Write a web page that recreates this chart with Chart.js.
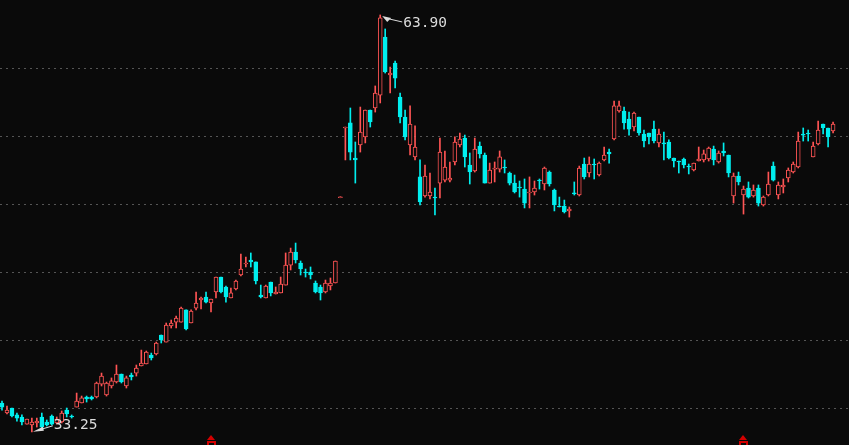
<!DOCTYPE html>
<html>
<head>
<meta charset="utf-8">
<script src="https://cdn.jsdelivr.net/npm/chart.js@4.4.0/dist/chart.umd.min.js"></script>
<style>
html, body { margin: 0; padding: 0; background: #0a0a0a; }
canvas { display: block; }
</style>
</head>
<body>
<canvas id="kline" width="849" height="445"></canvas>
<script>
// daily OHLC
var opens = [35.37,34.63,35.00,34.49,34.34,33.82,33.75,33.90,34.34,33.97,34.41,33.90,33.97,34.85,34.41,35.07,35.37,35.81,35.81,35.81,
  36.76,35.96,36.62,36.91,37.50,36.62,37.43,37.57,38.09,38.24,38.90,38.97,40.37,39.85,41.03,41.32,41.32,42.21,41.25,42.35,
  42.94,43.16,42.72,43.53,44.63,43.90,43.09,43.75,44.78,45.59,45.88,45.74,43.31,43.09,44.26,43.38,43.46,44.04,45.51,46.47,
  45.66,45.00,45.00,44.19,43.90,43.53,43.97,44.19,50.46,55.59,55.96,53.38,54.34,54.93,56.91,57.06,58.01,62.28,59.49,60.37,
  57.87,56.40,54.34,53.46,51.99,50.59,50.59,50.51,51.54,51.76,51.76,53.09,54.34,54.85,52.87,52.43,54.26,53.60,51.54,52.57,
  52.57,52.72,52.28,51.54,51.25,51.10,50.81,50.88,51.76,51.47,52.35,51.03,49.85,49.85,49.49,50.81,50.66,52.94,52.28,52.94,
  52.13,53.24,53.82,54.78,56.84,56.84,56.25,55.66,56.40,55.15,55.22,55.51,54.49,54.49,54.56,53.38,53.16,53.31,52.79,52.50,
  53.16,53.24,53.31,54.04,53.09,53.90,53.60,50.59,52.06,50.66,51.18,50.59,51.18,49.93,50.66,52.79,50.66,51.25,51.91,52.35,
  52.72,55.15,55.22,53.46,54.41,55.88,55.59,55.37];
var highs = [35.51,35.15,35.00,34.63,34.49,34.19,34.26,34.26,34.63,34.12,34.49,34.34,34.78,35.00,34.49,36.10,35.88,35.88,35.88,36.91,
  37.57,36.91,37.21,38.16,37.50,37.35,37.57,38.16,39.26,39.19,39.04,39.85,40.37,41.25,41.47,41.76,42.43,42.21,42.21,43.53,
  43.16,43.53,43.01,44.63,44.63,43.97,43.82,44.41,46.32,46.10,46.40,45.74,44.04,44.04,44.26,43.90,44.63,46.40,46.76,47.13,
  45.81,45.22,45.37,44.34,44.04,44.41,44.56,45.81,50.46,55.66,57.06,54.56,57.13,56.91,56.91,58.68,63.90,62.87,60.07,60.51,
  58.16,56.91,57.21,55.74,53.24,52.87,52.28,51.18,54.85,53.90,53.09,54.93,55.22,55.07,53.75,54.85,54.56,53.75,53.01,53.09,
  53.90,53.24,52.35,52.13,51.69,51.84,51.99,51.69,51.84,52.72,52.43,51.10,50.51,50.29,49.78,51.62,52.79,53.38,53.46,53.31,
  53.09,54.19,54.04,57.57,57.57,57.13,56.76,56.76,56.40,55.44,55.22,56.10,55.51,55.29,54.71,53.38,53.16,53.38,52.94,53.01,
  54.19,53.97,54.19,54.26,53.90,54.49,53.60,52.28,52.35,51.32,51.62,51.40,51.40,50.59,52.35,53.09,51.62,51.84,52.65,53.09,
  55.29,55.59,55.44,54.56,56.10,55.88,55.59,56.03];
var lows = [34.85,34.56,34.34,34.04,33.75,33.82,33.25,33.60,33.53,33.68,33.75,33.82,33.90,34.34,34.26,35.07,35.37,35.44,35.59,35.74,
  36.62,35.88,36.47,36.84,36.84,36.47,37.06,37.35,38.09,38.24,38.53,38.90,39.78,39.85,40.88,40.88,41.32,40.74,41.25,42.21,
  42.28,42.72,42.06,43.09,43.46,42.79,43.09,43.68,44.71,45.37,45.37,44.12,43.09,43.09,43.24,43.38,43.46,44.04,45.15,45.66,
  44.78,44.63,44.49,43.46,42.94,43.46,43.68,44.19,50.46,53.24,53.24,51.54,53.82,54.49,55.66,56.76,57.43,59.63,58.16,58.53,
  55.96,54.71,53.60,53.24,49.93,50.51,50.37,49.19,50.44,51.62,51.62,52.87,54.19,52.72,51.47,52.35,53.38,51.54,51.54,51.62,
  52.35,52.28,51.40,50.81,50.51,49.71,49.71,50.66,51.10,51.03,51.32,49.49,49.78,49.34,49.04,50.66,50.59,51.84,51.99,51.84,
  52.06,53.16,53.01,54.71,56.76,55.51,55.07,55.37,55.07,54.19,54.41,54.49,54.19,53.24,53.31,52.72,52.28,52.65,52.21,52.43,
  53.16,53.09,53.16,52.87,53.01,53.53,51.99,50.07,51.40,49.26,50.44,50.51,49.85,49.85,50.59,51.69,50.37,50.81,51.62,52.28,
  52.65,54.63,54.63,53.46,54.34,55.15,54.19,55.22];
var closes = [35.07,34.85,34.41,34.26,33.97,34.19,33.97,34.04,33.60,33.75,33.82,34.19,34.63,34.56,34.34,35.51,35.74,35.66,35.66,36.84,
  37.35,36.84,36.99,37.50,36.91,37.21,37.28,37.94,38.31,39.12,38.68,39.78,40.00,41.10,41.25,41.62,42.35,40.81,42.13,42.72,
  43.09,42.79,43.01,44.63,43.53,43.16,43.46,44.34,45.22,45.66,45.74,44.34,43.16,43.97,43.46,43.53,44.12,45.51,46.47,45.88,
  45.22,44.93,44.78,43.53,43.46,44.19,44.19,45.81,50.46,55.66,53.82,53.24,55.29,56.91,56.03,58.16,63.68,59.71,59.63,59.26,
  56.40,54.93,55.88,54.19,50.15,52.06,50.88,50.44,53.82,52.72,51.91,54.56,54.78,53.46,52.35,54.04,53.68,51.54,52.50,52.65,
  53.46,52.65,51.54,50.88,51.18,50.07,50.88,51.18,51.69,52.65,51.47,49.93,49.78,49.41,49.63,50.74,52.65,51.99,52.94,52.87,
  53.01,53.60,53.68,57.21,57.21,55.96,55.51,56.69,55.22,54.63,54.93,54.63,55.15,54.41,53.38,53.16,53.09,52.87,52.72,53.01,
  53.31,53.68,54.12,53.24,53.75,53.75,52.28,52.06,51.62,51.10,50.51,51.03,50.07,50.51,51.47,51.76,51.40,51.40,52.50,52.94,
  54.63,55.07,55.15,54.26,55.44,55.59,54.93,55.88];

var gridValues = [35, 40, 45, 50, 55, 60];
var markerDays = [42, 149];

var upColor = 'rgb(255,84,84)';
var downColor = 'rgb(0,238,238)';
var bgColor = '#0a0a0a';

var days = opens.map(function (v, i) { return i; });
var isUp = function (i) { return closes[i] >= opens[i]; };

var bodies = days.map(function (d, i) { return { x: d, y: [opens[i], closes[i]] }; });
var wicks = days.map(function (d, i) { return { x: d, y: [lows[i], highs[i]] }; });

var background = {
  id: 'background',
  beforeDraw: function (chart) {
    var c = chart.ctx;
    c.save();
    c.fillStyle = bgColor;
    c.fillRect(0, 0, chart.width, chart.height);
    c.restore();
  }
};

// high/low labels and the red markers on the bottom edge
var marks = {
  id: 'marks',
  afterDatasetsDraw: function (chart) {
    var c = chart.ctx;
    var xs = chart.scales.x, ys = chart.scales.y;
    var hi = 0, lo = 0;
    highs.forEach(function (v, i) { if (v > highs[hi]) hi = i; });
    lows.forEach(function (v, i) { if (v < lows[lo]) lo = i; });

    c.save();
    c.fillStyle = '#dcdcdc';
    c.strokeStyle = '#dcdcdc';
    c.lineWidth = 1;
    c.font = '14.5px "DejaVu Sans Mono", monospace';
    c.textBaseline = 'middle';

    var x = xs.getPixelForValue(days[hi]), y = ys.getPixelForValue(highs[hi]);
    c.beginPath();
    c.moveTo(x + 2, y + 1); c.lineTo(x + 11, y + 3); c.lineTo(x + 7, y + 7);
    c.closePath(); c.fill();
    c.beginPath(); c.moveTo(x + 9, y + 4); c.lineTo(x + 22, y + 7); c.stroke();
    c.fillText(highs[hi].toFixed(2), x + 23, y + 8);

    x = xs.getPixelForValue(days[lo]); y = ys.getPixelForValue(lows[lo]);
    c.beginPath();
    c.moveTo(x + 1, y); c.lineTo(x + 11, y - 5); c.lineTo(x + 12, y - 1);
    c.closePath(); c.fill();
    c.beginPath(); c.moveTo(x + 11, y - 3); c.lineTo(x + 21, y - 6); c.stroke();
    c.fillText(lows[lo].toFixed(2), x + 22, y - 7);

    var b = chart.chartArea.bottom;
    markerDays.forEach(function (d) {
      var mx = Math.round(xs.getPixelForValue(d));
      c.fillStyle = '#d40000';
      c.beginPath();
      c.moveTo(mx, b - 10); c.lineTo(mx - 4, b - 5); c.lineTo(mx + 4, b - 5);
      c.closePath(); c.fill();
      c.fillRect(mx - 4, b - 4, 9, 4);
      c.fillStyle = bgColor;
      c.fillRect(mx - 2, b - 2, 5, 2);
    });
    c.restore();
  }
};

new Chart(document.getElementById('kline'), {
  type: 'bar',
  data: {
    datasets: [{
      label: 'body',
      data: bodies,
      order: 1,
      grouped: false,
      barThickness: 4,
      borderWidth: 1,
      borderSkipped: false,
      minBarLength: 1,
      backgroundColor: function (ctx) { return isUp(ctx.dataIndex) ? bgColor : downColor; },
      borderColor: function (ctx) { return isUp(ctx.dataIndex) ? upColor : downColor; }
    }, {
      label: 'wick',
      data: wicks,
      order: 2,
      grouped: false,
      barThickness: 1,
      borderWidth: 0,
      minBarLength: 1,
      backgroundColor: function (ctx) { return isUp(ctx.dataIndex) ? upColor : downColor; }
    }]
  },
  options: {
    responsive: false,
    animation: false,
    layout: { padding: 0 },
    plugins: { legend: { display: false }, tooltip: { enabled: false } },
    scales: {
      x: { type: 'linear', min: -0.4, max: 170.2, offset: false, display: false },
      y: {
        min: 32.28,
        max: 65,
        ticks: { display: false },
        grid: { color: '#555555', lineWidth: 1, drawTicks: false },
        border: { display: false, dash: [2, 4] },
        afterBuildTicks: function (s) { s.ticks = gridValues.map(function (v) { return { value: v }; }); },
        afterFit: function (s) { s.width = 0; }
      }
    }
  },
  plugins: [background, marks]
});
</script>
</body>
</html>
